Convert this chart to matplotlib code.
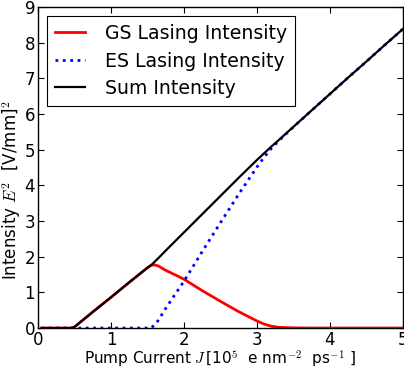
import matplotlib
matplotlib.use("Agg")
import matplotlib.pyplot as plt

plt.rcParams['mathtext.fontset'] = 'cm'
plt.rcParams['font.family'] = ['DejaVu Sans']

# Pump current J [10^5 e nm^-2 ps^-1]
J = [0.05, 0.25, 0.45, 0.5, 0.75, 1.0, 1.25, 1.5, 1.55, 1.6, 1.65, 1.75,
     2.0, 2.25, 2.5, 2.75, 3.0, 3.1, 3.2, 3.3, 3.5, 3.75, 4.0, 4.25, 4.5,
     4.75, 5.0]

# Ground-state lasing intensity
gs_intensity = [0.0, 0.0, 0.0, 0.03, 0.45, 0.86, 1.28, 1.69, 1.76, 1.77,
                1.74, 1.62, 1.37, 1.05, 0.75, 0.46, 0.20, 0.11, 0.05, 0.02,
                0.005, 0.0, 0.0, 0.0, 0.0, 0.0, 0.0]

# Excited-state lasing intensity
es_intensity = [0.0, 0.0, 0.0, 0.0, 0.0, 0.0, 0.0, 0.0, 0.0, 0.09, 0.22,
                0.55, 1.31, 2.14, 2.95, 3.75, 4.51, 4.79, 5.04, 5.25, 5.635,
                6.10, 6.56, 7.02, 7.47, 7.93, 8.38]

# Total intensity
sum_intensity = [0.0, 0.0, 0.0, 0.03, 0.45, 0.86, 1.28, 1.69, 1.76, 1.86,
                 1.96, 2.17, 2.68, 3.19, 3.70, 4.21, 4.71, 4.90, 5.09, 5.27,
                 5.64, 6.10, 6.56, 7.02, 7.47, 7.93, 8.38]

fig = plt.figure(figsize=(4.04, 3.69), dpi=100)
ax = fig.add_axes([0.094, 0.111, 0.903, 0.870])

ax.plot(J, gs_intensity, color='red', lw=2.0, label='GS Lasing Intensity')
ax.plot(J, es_intensity, color='blue', lw=2.0, ls=':', label='ES Lasing Intensity')
ax.plot(J, sum_intensity, color='black', lw=1.6, label='Sum Intensity')

ax.set_xlim(0, 5)
ax.set_ylim(0, 9)
ax.set_xticks([0, 1, 2, 3, 4, 5])
ax.set_yticks(range(0, 10))
ax.tick_params(direction='in', top=True, right=True, length=4, width=0.8,
               labelsize=12, pad=2)
for s in ax.spines.values():
    s.set_linewidth(1.0)

ax.set_xlabel(r'Pump Current $J\,$[10$^5$  e nm$^{-2}$  ps$^{-1}$ ]',
              fontsize=11, labelpad=0)
ax.set_ylabel(r'Intensity $E^2$  [V/mm]$^2$', fontsize=12, labelpad=1)
ax.yaxis.set_label_coords(-0.042, 0.43)

leg = ax.legend(loc='upper left', fontsize=13.6, fancybox=False,
                framealpha=1, edgecolor='black', labelspacing=0.45,
                handlelength=1.6, handletextpad=1.05, borderaxespad=0.5)
leg.get_frame().set_linewidth(0.8)

fig.savefig('out.png', dpi=100)
